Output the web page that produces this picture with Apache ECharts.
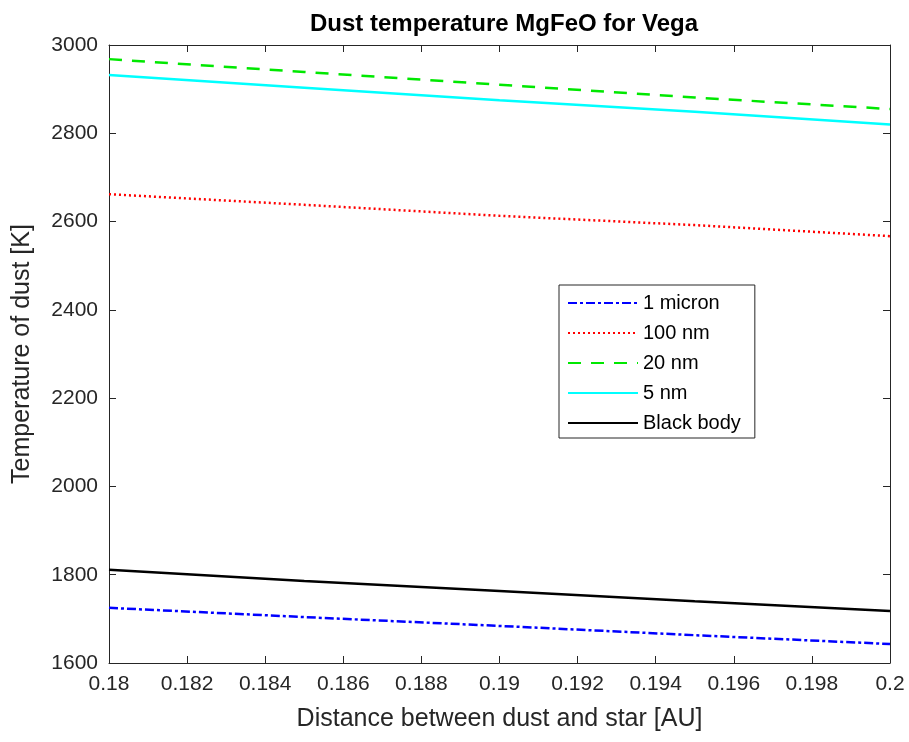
<!DOCTYPE html>
<html>
<head>
<meta charset="utf-8">
<script src="https://cdn.jsdelivr.net/npm/echarts@6/dist/echarts.min.js"></script>
<style>
  html, body { margin: 0; padding: 0; background: #fff; }
  #chart { width: 909px; height: 742px; }
</style>
</head>
<body>
<div id="chart"></div>
<script>
// Distance from Vega [AU]
const distance = [0.18, 0.185, 0.19, 0.195, 0.2];

// Equilibrium dust temperature [K] per grain size
const tempMicron1 = [1725, 1704, 1684, 1663, 1643];
const tempNm100   = [2662, 2638, 2613, 2592, 2567];
const tempNm20    = [2968, 2939, 2910, 2881, 2855];
const tempNm5     = [2932, 2903, 2875, 2849, 2820];
const tempBlack   = [1811, 1786, 1763, 1740, 1718];

const seriesNames = ['1 micron', '100 nm', '20 nm', '5 nm', 'Black body'];

const xTickStep = 0.002;
const yTickStep = 200;

const axisColor = '#262626';
const fontFam = 'Liberation Sans, Arial, sans-serif';

function pairs(ys) { return distance.map((x, i) => [x, ys[i]]); }

function makeSeries(name, ys, color, type) {
  return {
    name: name,
    type: 'line',
    data: pairs(ys),
    showSymbol: false,
    symbol: 'none',
    smooth: false,
    lineStyle: { color: color, width: 2.5, type: type },
    itemStyle: { color: color },
    xAxisIndex: 0,
    yAxisIndex: 0
  };
}

const chart = echarts.init(document.getElementById('chart'), null, { renderer: 'canvas' });

const xTickFmt = v => String(parseFloat(v.toFixed(4)));
const yTickFmt = v => String(v);

const baseX = {
  type: 'value', min: 0.18, max: 0.2, interval: xTickStep,
  axisLine: { show: true, lineStyle: { color: axisColor, width: 1 } },
  axisTick: { show: true, inside: true, length: 7, lineStyle: { color: axisColor } },
  splitLine: { show: false }
};
const baseY = {
  type: 'value', min: 1600, max: 3000, interval: yTickStep,
  axisLine: { show: true, lineStyle: { color: axisColor, width: 1 } },
  axisTick: { show: true, inside: true, length: 7, lineStyle: { color: axisColor } },
  splitLine: { show: false }
};

chart.setOption({
  backgroundColor: '#fff',
  animation: false,
  title: {
    text: 'Dust temperature MgFeO for Vega',
    left: 499, top: 7, textAlign: 'center',
    textStyle: { fontFamily: fontFam, fontSize: 24, fontWeight: 'bold', color: '#000' }
  },
  grid: { left: 109, right: 19, top: 45, bottom: 79 },
  legend: {
    orient: 'vertical',
    left: 559, top: 285,
    data: seriesNames,
    itemWidth: 70, itemHeight: 14, itemGap: 10,
    itemStyle: { opacity: 0 },
    backgroundColor: '#fff',
    borderColor: axisColor, borderWidth: 1,
    padding: [8, 14, 5, 8],
    textStyle: { fontFamily: fontFam, fontSize: 20, lineHeight: 20, color: '#000' }
  },
  xAxis: [
    Object.assign({}, baseX, {
      position: 'bottom',
      name: 'Distance between dust and star [AU]',
      nameLocation: 'middle', nameGap: 44,
      nameTextStyle: { fontFamily: fontFam, fontSize: 25, color: axisColor },
      axisLabel: { formatter: xTickFmt, fontFamily: fontFam, fontSize: 21, color: axisColor, margin: 11 }
    }),
    Object.assign({}, baseX, { position: 'top', axisLabel: { show: false } })
  ],
  yAxis: [
    Object.assign({}, baseY, {
      position: 'left',
      name: 'Temperature of dust [K]',
      nameLocation: 'middle', nameGap: 74,
      nameTextStyle: { fontFamily: fontFam, fontSize: 25, color: axisColor },
      axisLabel: { formatter: yTickFmt, fontFamily: fontFam, fontSize: 21, color: axisColor, margin: 11 }
    }),
    Object.assign({}, baseY, { position: 'right', axisLabel: { show: false } })
  ],
  series: [
    makeSeries('1 micron', tempMicron1, '#0000ff', [9, 3, 3, 3]),
    makeSeries('100 nm', tempNm100, '#ff0000', [2, 3]),
    makeSeries('20 nm', tempNm20, '#00e800', [13, 10]),
    makeSeries('5 nm', tempNm5, '#00ffff', 'solid'),
    makeSeries('Black body', tempBlack, '#000000', 'solid')
  ]
});
</script>
</body>
</html>
